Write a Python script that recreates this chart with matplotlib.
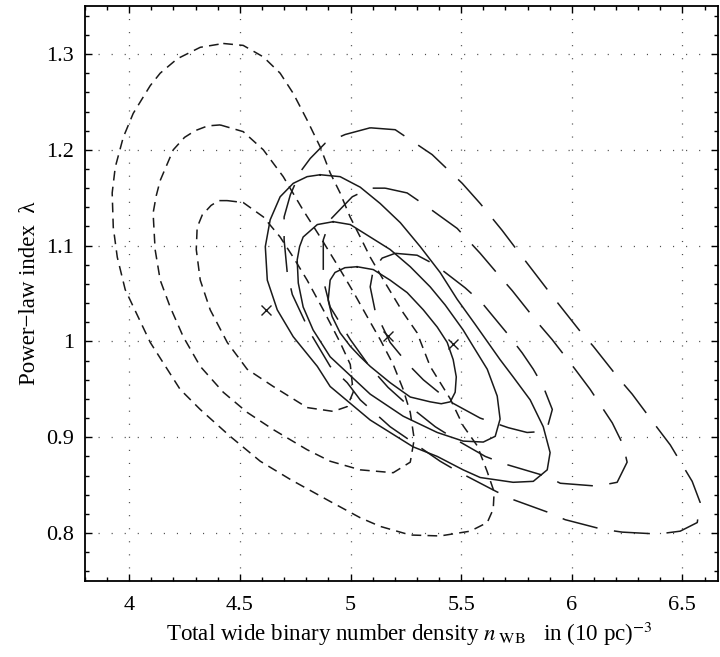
import numpy as np
import matplotlib
matplotlib.use("Agg")
import matplotlib.pyplot as plt
from matplotlib.ticker import MultipleLocator

# confidence contours: (n_WB, lambda) pairs, closed loops
# short dashed family
s1_x = [4.443, 4.515, 4.606, 4.682, 4.741, 4.804, 4.877, 4.953, 4.999, 5.012, 4.985, 4.922,
        4.804, 4.651, 4.533, 4.443, 4.366, 4.321, 4.303, 4.307, 4.330, 4.370, 4.405]
s1_y = [1.147, 1.145, 1.130, 1.109, 1.088, 1.064, 1.033, 0.999, 0.976, 0.947, 0.932, 0.927,
        0.931, 0.953, 0.971, 0.999, 1.033, 1.064, 1.096, 1.119, 1.132, 1.142, 1.147]
s2_x = [4.411, 4.515, 4.606, 4.696, 4.786, 4.863, 4.940, 5.012, 5.075, 5.134, 5.193, 5.238,
        5.270, 5.288, 5.270, 5.193, 5.044, 4.908, 4.804, 4.651, 4.533, 4.425, 4.321, 4.244,
        4.185, 4.140, 4.117, 4.108, 4.122, 4.140, 4.199, 4.250, 4.298, 4.355]
s2_y = [1.226, 1.219, 1.200, 1.172, 1.137, 1.109, 1.080, 1.052, 1.026, 1.002, 0.976, 0.950,
        0.926, 0.898, 0.874, 0.863, 0.866, 0.875, 0.887, 0.908, 0.926, 0.947, 0.974, 1.005,
        1.036, 1.064, 1.096, 1.134, 1.152, 1.168, 1.200, 1.213, 1.220, 1.225]
s3_x = [4.425, 4.515, 4.606, 4.682, 4.741, 4.804, 4.863, 4.908, 4.953, 4.998, 5.044, 5.089,
        5.157, 5.238, 5.301, 5.360, 5.451, 5.509, 5.573, 5.618, 5.649, 5.645, 5.618, 5.541,
        5.405, 5.270, 5.134, 5.044, 4.908, 4.728, 4.592, 4.456, 4.321, 4.230, 4.095, 3.982,
        3.946, 3.928, 3.923, 3.937, 3.973, 4.018, 4.063, 4.095, 4.140, 4.217, 4.321]
s3_y = [1.311, 1.309, 1.297, 1.280, 1.259, 1.231, 1.203, 1.176, 1.155, 1.130, 1.109, 1.088,
        1.061, 1.030, 1.009, 0.974, 0.940, 0.912, 0.891, 0.864, 0.843, 0.825, 0.811, 0.802,
        0.797, 0.798, 0.807, 0.816, 0.833, 0.856, 0.875, 0.901, 0.929, 0.950, 0.999, 1.054,
        1.088, 1.119, 1.155, 1.182, 1.213, 1.238, 1.255, 1.267, 1.280, 1.295, 1.307]

# solid family
m1_x = [5.030, 5.103, 5.179, 5.256, 5.329, 5.392, 5.437, 5.464, 5.478, 5.473, 5.451, 5.410,
        5.360, 5.270, 5.179, 5.089, 5.044, 4.999, 4.953, 4.917, 4.899, 4.908, 4.930, 4.975]
m1_y = [1.078, 1.075, 1.064, 1.051, 1.033, 1.015, 0.999, 0.981, 0.963, 0.947, 0.937, 0.935,
        0.937, 0.942, 0.957, 0.974, 0.984, 0.995, 1.009, 1.026, 1.043, 1.064, 1.072, 1.077]
m2_x = [4.922, 4.999, 5.089, 5.179, 5.270, 5.360, 5.428, 5.509, 5.554, 5.618, 5.663, 5.676,
        5.654, 5.600, 5.509, 5.392, 5.238, 5.089, 4.908, 4.831, 4.786, 4.764, 4.759, 4.770,
        4.786, 4.850]
m2_y = [1.125, 1.122, 1.109, 1.096, 1.078, 1.057, 1.038, 1.012, 0.995, 0.971, 0.943, 0.919,
        0.901, 0.895, 0.896, 0.905, 0.922, 0.945, 0.984, 1.012, 1.036, 1.061, 1.085, 1.099,
        1.109, 1.122]
m3_x = [4.863, 4.953, 5.044, 5.134, 5.225, 5.315, 5.405, 5.482, 5.563, 5.676, 5.735, 5.812,
        5.871, 5.902, 5.889, 5.826, 5.735, 5.586, 5.509, 5.392, 5.283, 5.089, 4.908, 4.850,
        4.741, 4.669, 4.624, 4.615, 4.637, 4.682, 4.741, 4.804]
m3_y = [1.174, 1.172, 1.161, 1.144, 1.124, 1.099, 1.072, 1.044, 1.018, 0.981, 0.963, 0.939,
        0.911, 0.884, 0.866, 0.854, 0.853, 0.858, 0.866, 0.880, 0.890, 0.918, 0.953, 0.974,
        1.005, 1.033, 1.064, 1.099, 1.127, 1.151, 1.165, 1.172]

# long dashed family
l1_x = [5.202, 5.301, 5.383, 5.518, 5.595, 5.713, 5.776, 5.826, 5.871, 5.912, 5.893, 5.866,
        5.798, 5.713, 5.586, 5.451, 5.329, 5.261, 5.179, 5.112, 5.089, 5.103, 5.143]
l1_y = [1.092, 1.090, 1.080, 1.056, 1.040, 1.007, 0.988, 0.971, 0.953, 0.929, 0.913, 0.906,
        0.905, 0.910, 0.920, 0.937, 0.960, 0.976, 0.999, 1.031, 1.057, 1.075, 1.087]
l2_x = [5.157, 5.256, 5.338, 5.482, 5.586, 5.667, 5.731, 5.848, 5.911, 6.015, 6.083, 6.183,
        6.232, 6.250, 6.205, 6.115, 5.948, 5.889, 5.699, 5.609, 5.473, 5.383, 5.247, 5.170,
        5.089, 4.999, 4.908, 4.877, 4.877, 4.908, 5.008, 5.089]
l2_y = [1.160, 1.155, 1.142, 1.118, 1.092, 1.070, 1.053, 1.019, 1.002, 0.971, 0.950, 0.915,
        0.892, 0.874, 0.853, 0.849, 0.852, 0.859, 0.872, 0.880, 0.898, 0.911, 0.936, 0.952,
        0.973, 1.002, 1.036, 1.064, 1.106, 1.127, 1.151, 1.160]
l3_x = [5.089, 5.202, 5.292, 5.369, 5.505, 5.586, 5.685, 5.744, 5.857, 5.920, 6.033, 6.097,
        6.210, 6.273, 6.386, 6.445, 6.544, 6.580, 6.567, 6.490, 6.390, 6.228, 6.137, 5.970,
        5.889, 5.722, 5.645, 5.487, 5.405, 5.261, 5.179, 5.044, 4.985, 4.908, 4.818, 4.737,
        4.714, 4.700, 4.700, 4.728, 4.773, 4.818, 4.886, 4.976]
l3_y = [1.223, 1.221, 1.207, 1.195, 1.165, 1.144, 1.116, 1.098, 1.064, 1.045, 1.012, 0.995,
        0.962, 0.945, 0.910, 0.892, 0.854, 0.832, 0.811, 0.802, 0.799, 0.801, 0.804, 0.814,
        0.822, 0.836, 0.845, 0.864, 0.875, 0.898, 0.911, 0.939, 0.957, 0.974, 1.009, 1.049,
        1.072, 1.106, 1.130, 1.153, 1.177, 1.191, 1.207, 1.216]

# best-fit points
best_x = [4.619, 5.170, 5.464]
best_y = [1.033, 1.006, 0.997]

plt.rcParams['font.family'] = ['Liberation Serif', 'DejaVu Serif']
plt.rcParams['mathtext.fontset'] = 'stix'
plt.rcParams['lines.scale_dashes'] = False

fig = plt.figure(figsize=(7.2, 6.57), dpi=100)
ax = fig.add_axes([0.118, 0.1157, 0.879, 0.875])

short_dash = (0, (7.0, 4.5))
long_dash = (0, (26.0, 12.0))

def closed(xs, ys):
    return list(xs) + [xs[0]], list(ys) + [ys[0]]

for xs, ys in [(s1_x, s1_y), (s2_x, s2_y), (s3_x, s3_y)]:
    cx, cy = closed(xs, ys)
    ax.plot(cx, cy, color='0.1', lw=1.1, linestyle=short_dash)
for xs, ys in [(m1_x, m1_y), (m2_x, m2_y), (m3_x, m3_y)]:
    cx, cy = closed(xs, ys)
    ax.plot(cx, cy, color='0.1', lw=1.1, linestyle='-')
for xs, ys in [(l1_x, l1_y), (l2_x, l2_y), (l3_x, l3_y)]:
    cx, cy = closed(xs, ys)
    ax.plot(cx, cy, color='0.1', lw=1.1, linestyle=long_dash)

ax.plot(best_x, best_y, 'x', color='0.1', markersize=7, mew=1.0)

ax.set_xlim(3.8, 6.66)
ax.set_ylim(0.75, 1.35)
ax.set_xticks([4, 4.5, 5, 5.5, 6, 6.5])
ax.set_xticklabels(["4", "4.5", "5", "5.5", "6", "6.5"])
ax.set_yticks([0.8, 0.9, 1.0, 1.1, 1.2, 1.3])
ax.set_yticklabels(["0.8", "0.9", "1", "1.1", "1.2", "1.3"])
ax.xaxis.set_minor_locator(MultipleLocator(0.1))
ax.yaxis.set_minor_locator(MultipleLocator(0.02))
ax.tick_params(which='both', direction='in', top=True, right=True, labelsize=16, width=1.0)
ax.tick_params(which='major', length=5)
ax.tick_params(which='minor', length=3)
ax.tick_params(axis='x', pad=11)
ax.tick_params(axis='y', pad=8)
for sp in ax.spines.values():
    sp.set_linewidth(1.3)

ax.grid(True, which='major', color='0.3', linestyle=(0, (0.8, 8.6)), linewidth=0.9)

ax.set_xlabel(r"Total wide binary number density $n_{\ \mathrm{WB}}$   in (10 pc)$^{-3}$",
              fontsize=16.6, labelpad=3)
ax.xaxis.label.set_x(0.512)
ax.set_ylabel("Power\u2212law index  \u03bb", fontsize=16.5, labelpad=4)

fig.savefig("out.png", dpi=100)
